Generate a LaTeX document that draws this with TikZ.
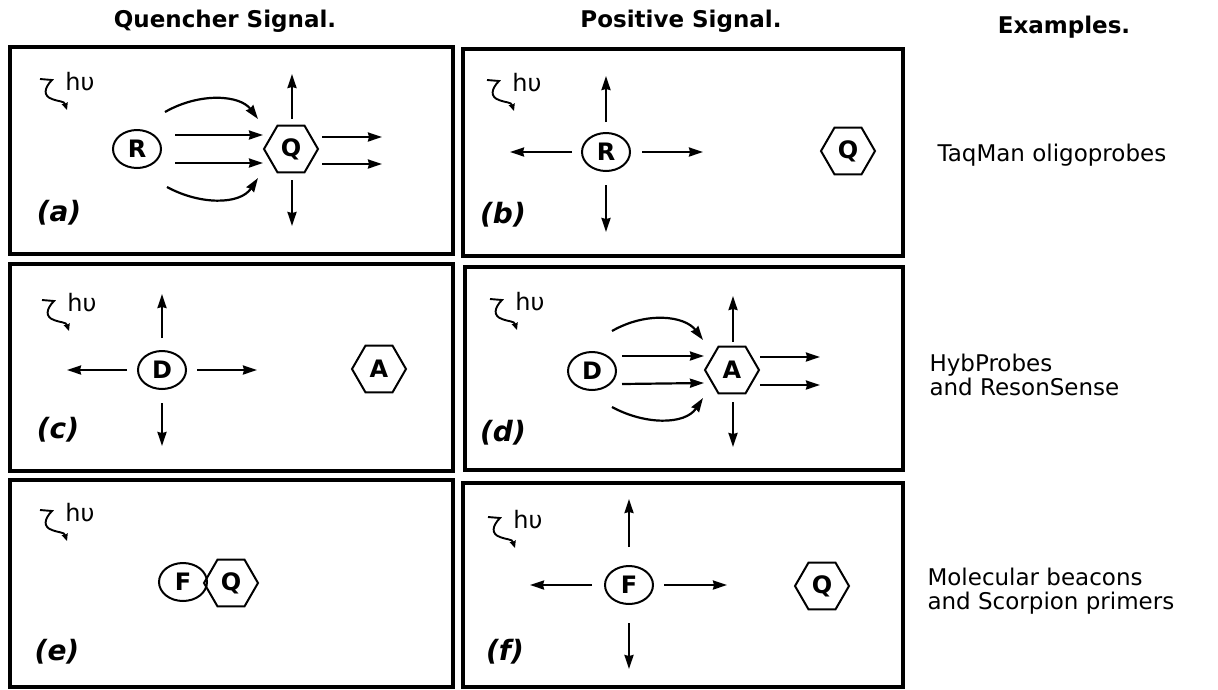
\documentclass[tikz,border=0pt]{standalone}
\usepackage{fontspec}
\setmainfont{DejaVu Sans}
\usetikzlibrary{arrows.meta, calc, shapes.geometric}

\begin{document}
\begin{tikzpicture}[x=1pt, y=-1pt,
  panel/.style={draw, line width=3.2pt},
  arr/.style={-{Stealth[length=14pt, width=9pt, inset=1pt]}, line width=2.2pt},
  photon/.style={-{Stealth[length=7pt, width=6pt, inset=0.5pt]}, line width=1.9pt},
  donor/.style={ellipse, draw, line width=2pt, minimum width=48, minimum height=38, inner sep=0pt, font=\fontsize{24}{28}\selectfont\bfseries},
  accept/.style={regular polygon, regular polygon sides=6, draw, line width=2pt, minimum size=54, inner sep=0pt, font=\fontsize{24}{28}\selectfont\bfseries},
  head/.style={font=\fontsize{23}{27}\selectfont\bfseries},
  example/.style={anchor=west, align=left, font=\fontsize{23}{24}\selectfont},
  tag/.style={font=\fontsize{28}{32}\selectfont\bfseries\itshape},
  hv/.style={font=\fontsize{24}{26}\selectfont, inner sep=0pt}]
  \useasboundingbox (0,0) rectangle (1218,689);

  % Column headings
  \node[head] (hq) at (225,21) {Quencher Signal.};
  \node[head] (hp) at (681,21) {Positive Signal.};
  \node[head] (hx) at (1064,27) {Examples.};

  % Panel frames
  \draw[panel] (10,47) rectangle (453,254);
  \draw[panel] (463,49) rectangle (903,256);
  \draw[panel] (10,264) rectangle (453,471);
  \draw[panel] (465,267) rectangle (903,470);
  \draw[panel] (10,480) rectangle (453,687);
  \draw[panel] (463,483) rectangle (903,687);

  % Excitation light in every panel
  \foreach \n/\sx/\sy in {a/40/79, b/487/80, c/42/300, d/490/299, e/40/510, f/488/517} {
    \draw[photon] (\sx,\sy) -- (\sx+12,\sy+1)
      .. controls (\sx+4,\sy+9) and (\sx+3,\sy+17) .. (\sx+12,\sy+20)
      .. controls (\sx+20,\sy+23) and (\sx+24,\sy+22) .. (\sx+27,\sy+31);
    \node[hv] (hv-\n) at (\sx+40,\sy+3) {hυ};
  }

  % (a) reporter quenched
  \node[donor] (Ra) at (137,149) {R};
  \node[accept] (Qa) at (291,149) {Q};
  \draw[arr] ($(Ra)+(38,-14)$) -- ($(Qa)+(-28,-14)$);
  \draw[arr] ($(Ra)+(38,14)$) -- ($(Qa)+(-28,14)$);
  \draw[arr] ($(Ra)+(28,-37)$) .. controls +(35,-20) and +(-18,-24) .. ($(Qa)+(-33,-30)$);
  \draw[arr] ($(Ra)+(30,38)$) .. controls +(33,18) and +(-18,27) .. ($(Qa)+(-33,29)$);
  \draw[arr] ($(Qa)+(1,-30)$) -- ($(Qa)+(1,-75)$);
  \draw[arr] ($(Qa)+(1,31)$) -- ($(Qa)+(1,77)$);
  \draw[arr] ($(Qa)+(31,-12)$) -- ($(Qa)+(91,-12)$);
  \draw[arr] ($(Qa)+(31,15)$) -- ($(Qa)+(91,15)$);
  \node[tag] (la) at (59,213) {(a)};

  % (b) reporter free
  \node[donor] (Rb) at (606,152) {R};
  \node[accept] (Qb) at (848,151) {Q};
  \draw[arr] ($(Rb)+(0,-30)$) -- ($(Rb)+(0,-76)$);
  \draw[arr] ($(Rb)+(0,33)$) -- ($(Rb)+(0,80)$);
  \draw[arr] ($(Rb)+(-34,0)$) -- ($(Rb)+(-96,0)$);
  \draw[arr] ($(Rb)+(36,0)$) -- ($(Rb)+(97,0)$);
  \node[tag] (lb) at (503,215) {(b)};

  % (c) donor alone
  \node[donor] (Dc) at (162,370) {D};
  \node[accept] (Ac) at (379,369) {A};
  \draw[arr] ($(Dc)+(0,-32)$) -- ($(Dc)+(0,-76)$);
  \draw[arr] ($(Dc)+(0,33)$) -- ($(Dc)+(0,76)$);
  \draw[arr] ($(Dc)+(-35,0)$) -- ($(Dc)+(-95,0)$);
  \draw[arr] ($(Dc)+(35,0)$) -- ($(Dc)+(95,0)$);
  \node[tag] (lc) at (58,430) {(c)};

  % (d) energy transfer to acceptor
  \node[donor] (Dd) at (592,371) {D};
  \node[accept] (Ad) at (732,370) {A};
  \draw[arr] ($(Dd)+(30,-15)$) -- ($(Ad)+(-28,-14)$);
  \draw[arr] ($(Dd)+(30,13)$) -- ($(Ad)+(-28,13)$);
  \draw[arr] ($(Dd)+(20,-40)$) .. controls +(35,-20) and +(-18,-24) .. ($(Ad)+(-29,-30)$);
  \draw[arr] ($(Dd)+(20,36)$) .. controls +(33,18) and +(-18,27) .. ($(Ad)+(-29,28)$);
  \draw[arr] ($(Ad)+(1,-28)$) -- ($(Ad)+(1,-74)$);
  \draw[arr] ($(Ad)+(1,32)$) -- ($(Ad)+(1,77)$);
  \draw[arr] ($(Ad)+(28,-13)$) -- ($(Ad)+(88,-13)$);
  \draw[arr] ($(Ad)+(28,15)$) -- ($(Ad)+(88,15)$);
  \node[tag] (ld) at (503,433) {(d)};

  % (e) contact quenching
  \node[donor] (Fe) at (183,582) {F};
  \node[accept] (Qe) at (231,583) {Q};
  \node[tag] (le) at (57,652) {(e)};

  % (f) fluorophore released
  \node[donor] (Ff) at (629,585) {F};
  \node[accept] (Qf) at (822,586) {Q};
  \draw[arr] ($(Ff)+(0,-38)$) -- ($(Ff)+(0,-86)$);
  \draw[arr] ($(Ff)+(0,38)$) -- ($(Ff)+(0,84)$);
  \draw[arr] ($(Ff)+(-37,0)$) -- ($(Ff)+(-99,0)$);
  \draw[arr] ($(Ff)+(35,0)$) -- ($(Ff)+(98,0)$);
  \node[tag] (lf) at (505,652) {(f)};

  % Examples column
  \node[example] (ex1) at (934,155) {TaqMan oligoprobes};
  \node[example] (ex2) at (926,375) {HybProbes\\and ResonSense};
  \node[example] (ex3) at (924,591) {Molecular beacons\\and Scorpion primers};
\end{tikzpicture}
\end{document}
